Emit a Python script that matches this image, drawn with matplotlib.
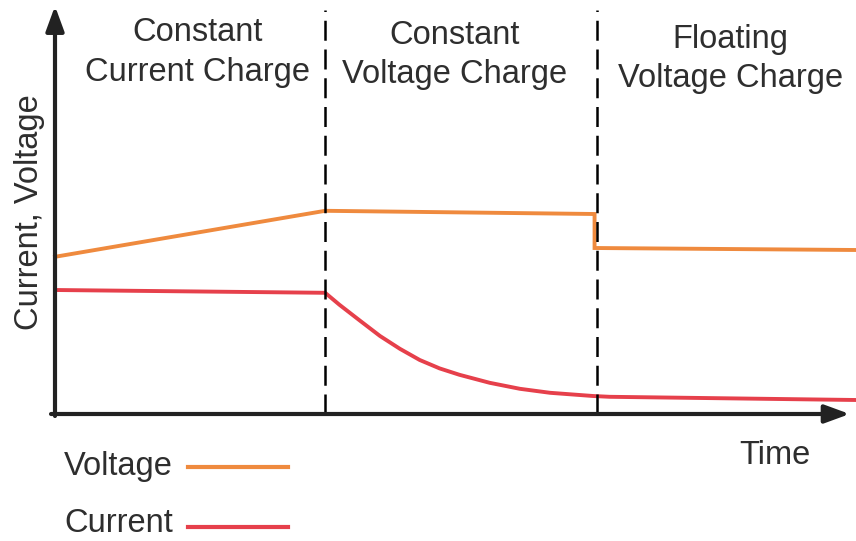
import matplotlib.pyplot as plt

# datos del esquema (unidades arbitrarias)
t_voltage = [0.0, 3.40, 6.79, 6.79, 10.08]
voltage = [3.93, 5.08, 5.00, 4.15, 4.10]

t_current = [0.0, 3.40, 3.58, 3.84, 4.09, 4.34, 4.59, 4.84, 5.09, 5.47, 5.85, 6.23, 6.77, 6.98, 10.08]
current = [3.10, 3.03, 2.73, 2.33, 1.95, 1.63, 1.35, 1.14, 0.98, 0.78, 0.63, 0.53, 0.45, 0.43, 0.35]

phase_edges = [3.40, 6.82]
phase_labels = ["Constant\nCurrent Charge", "Constant\nVoltage Charge", "Floating\nVoltage Charge"]
phase_centers = [1.79, 5.03, 8.50]
phase_tops = [9.92, 9.85, 9.75]

plt.rcParams['font.family'] = ['Liberation Sans', 'DejaVu Sans']
orange = '#EF8A3E'
red = '#E6404B'
txt = '#2e2e2e'

fig = plt.figure(figsize=(8.56, 5.41), dpi=100)
ax = fig.add_axes([55 / 856, 1 - 414 / 541, 1 - 55 / 856, 414 / 541])
ax.set_xlim(0, 10.08)
ax.set_ylim(0, 10.35)
ax.axis('off')

ax.plot(t_voltage, voltage, color=orange, lw=2.8, solid_joinstyle='miter', clip_on=False)
ax.plot(t_current, current, color=red, lw=2.8, solid_joinstyle='round', clip_on=False)

for x in phase_edges:
    ax.plot([x, x], [0, 10.1], color='black', lw=1.8, dashes=(8, 3.5), clip_on=False)

for x, y, lab in zip(phase_centers, phase_tops, phase_labels):
    ax.text(x, y, lab, ha='center', va='top', fontsize=23.5, color=txt, linespacing=1.35)

# ejes con flechas
arrow = dict(arrowstyle='-|>,head_length=1.5,head_width=0.55', color='#222222', lw=3, shrinkA=0, shrinkB=0)
ax.annotate('', xy=(0, 10.2), xytext=(0, -0.05), arrowprops=arrow, annotation_clip=False)
ax.annotate('', xy=(10.0, 0), xytext=(-0.05, 0), arrowprops=arrow, annotation_clip=False)

fig.text(30 / 856, 1 - 212 / 541, 'Current, Voltage', rotation=90, ha='center', va='center',
         fontsize=23.5, color=txt)
fig.text(775 / 856, 1 - 455 / 541, 'Time', ha='center', va='center', fontsize=23.5, color=txt)

# leyenda manual
fig.text(64 / 856, 1 - 467 / 541, 'Voltage', ha='left', va='center', fontsize=23.5, color=txt)
fig.text(64 / 856, 1 - 523 / 541, 'Current', ha='left', va='center', fontsize=23.5, color=txt)
fig.add_artist(plt.Line2D([188 / 856, 288 / 856], [1 - 467 / 541] * 2, color=orange, lw=3))
fig.add_artist(plt.Line2D([188 / 856, 288 / 856], [1 - 527 / 541] * 2, color=red, lw=3))

fig.savefig('out.png', dpi=100)
